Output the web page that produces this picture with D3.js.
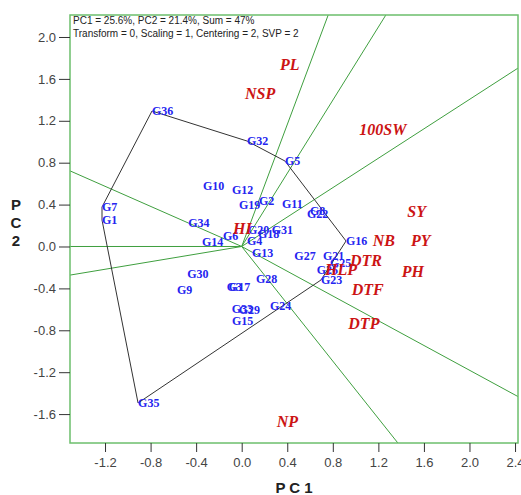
<!DOCTYPE html>
<html>
<head>
<meta charset="utf-8">
<script src="https://cdn.jsdelivr.net/npm/d3@7"></script>
<style>
  html, body { margin: 0; padding: 0; background: #fff; }
  svg { display: block; }
</style>
</head>
<body>
<svg id="chart" width="521" height="495"></svg>
<script>
// ---- Data ----
const genotypes = ["G1","G2","G3","G4","G5","G6","G7","G8","G9","G10","G11","G12",
  "G13","G14","G15","G16","G17","G18","G19","G20","G21","G22","G23","G24",
  "G25","G26","G27","G28","G29","G30","G31","G32","G33","G34","G35","G36"];
const genoPC1 = [-1.2265, 0.152, -0.131, 0.0465, 0.380, -0.164, -1.2265, 0.600, -0.568, -0.340, 0.354, -0.085,
  0.090, -0.349, -0.085, 0.916, -0.113, 0.143, -0.024, 0.055, 0.714, 0.573, 0.696, 0.248,
  0.775, 0.658, 0.462, 0.126, -0.026, -0.478, 0.263, 0.0465, -0.088, -0.469, -0.910, -0.7875];
const genoPC2 = [0.253, 0.434, -0.387, 0.050, 0.816, 0.100, 0.377, 0.339, -0.415, 0.578, 0.406, 0.539,
  -0.062, 0.046, -0.711, 0.0525, -0.387, 0.122, 0.396, 0.160, -0.091, 0.307, -0.320, -0.565,
  -0.160, -0.224, -0.091, -0.307, -0.606, -0.263, 0.158, 1.007, -0.592, 0.221, -1.494, 1.2936];

const traits = ["PL","NSP","100SW","SY","NB","PY","PH","DTR","DTF","DTP","NP","HI","HLP"];
const traitPC1 = [0.336, 0.029, 1.0325, 1.454, 1.150, 1.486, 1.405, 0.951, 0.966, 0.936, 0.307, -0.076, 0.731];
const traitPC2 = [1.742, 1.456, 1.119, 0.332, 0.0525, 0.0525, -0.2406, -0.138, -0.415, -0.733, -1.6726, 0.172, -0.224];

// vertices of the which-won-where polygon (in order)
const polygonVertices = ["G36","G32","G5","G16","G23","G35","G1","G7"];

const xTicks = [-1.2, -0.8, -0.4, 0.0, 0.4, 0.8, 1.2, 1.6, 2.0, 2.4];
const yTicks = [2.0, 1.6, 1.2, 0.8, 0.4, 0.0, -0.4, -0.8, -1.2, -1.6];

const headerLines = ["PC1 = 25.6%, PC2 = 21.4%, Sum = 47%",
                     "Transform = 0, Scaling = 1, Centering = 2, SVP = 2"];

// ---- Layout ----
const L = 70, R = 518, T = 15, B = 443;
const x = d3.scaleLinear().domain([-1.5075, 2.426]).range([L, R]);
const y = d3.scaleLinear().domain([-1.876, 2.210]).range([B, T]);

const svg = d3.select("#chart");

svg.append("defs").append("clipPath").attr("id", "plotclip")
  .append("rect").attr("x", L).attr("y", T).attr("width", R - L).attr("height", B - T);

const plot = svg.append("g").attr("clip-path", "url(#plotclip)");

// genotype lookup
const gIndex = {};
genotypes.forEach((g, i) => gIndex[g] = [genoPC1[i], genoPC2[i]]);
const hull = polygonVertices.map(g => gIndex[g]);

// rays perpendicular to each polygon side, from origin
const [dx0, dx1] = x.domain(), [dy0, dy1] = y.domain();
for (let i = 0; i < hull.length; i++) {
  const a = hull[i], b = hull[(i + 1) % hull.length];
  const d = [b[0] - a[0], b[1] - a[1]];
  const t = -(a[0] * d[0] + a[1] * d[1]) / (d[0] * d[0] + d[1] * d[1]);
  const f = [a[0] + t * d[0], a[1] + t * d[1]];
  let s = Infinity;
  if (f[0] > 1e-9) s = Math.min(s, dx1 / f[0]);
  if (f[0] < -1e-9) s = Math.min(s, dx0 / f[0]);
  if (f[1] > 1e-9) s = Math.min(s, dy1 / f[1]);
  if (f[1] < -1e-9) s = Math.min(s, dy0 / f[1]);
  plot.append("line")
    .attr("x1", x(0)).attr("y1", y(0))
    .attr("x2", x(f[0] * s)).attr("y2", y(f[1] * s))
    .attr("stroke", "#3f9f3f").attr("stroke-width", 1);
}

// polygon
plot.append("path")
  .attr("d", d3.line().x(p => x(p[0])).y(p => y(p[1])).curve(d3.curveLinearClosed)(hull))
  .attr("fill", "none").attr("stroke", "#333").attr("stroke-width", 1);

// genotype labels
plot.selectAll("text.geno").data(genotypes).join("text")
  .attr("class", "geno")
  .attr("x", (d, i) => x(genoPC1[i]))
  .attr("y", (d, i) => y(genoPC2[i]))
  .attr("dominant-baseline", "central")
  .attr("font-family", "'Liberation Serif', 'Times New Roman', serif")
  .attr("font-weight", "bold")
  .attr("font-size", 12)
  .attr("fill", "#2424f0")
  .text(d => d);

// trait labels
plot.selectAll("text.trait").data(traits).join("text")
  .attr("class", "trait")
  .attr("x", (d, i) => x(traitPC1[i]))
  .attr("y", (d, i) => y(traitPC2[i]))
  .attr("dominant-baseline", "central")
  .attr("font-family", "'Liberation Serif', 'Times New Roman', serif")
  .attr("font-weight", "bold")
  .attr("font-style", "italic")
  .attr("font-size", 16)
  .attr("fill", "#cc1414")
  .text(d => d);

// header text
svg.selectAll("text.hdr").data(headerLines).join("text")
  .attr("class", "hdr")
  .attr("x", 73).attr("y", (d, i) => 24 + i * 13)
  .attr("font-family", "'Liberation Sans', Arial, sans-serif")
  .attr("font-size", 10)
  .attr("fill", "#222")
  .text(d => d);

// plot border
svg.append("rect").attr("x", L).attr("y", T).attr("width", R - L).attr("height", B - T)
  .attr("fill", "none").attr("stroke", "#6cbf6c").attr("stroke-width", 1.5);

// axes
const fmt = v => v.toFixed(1);
const xAxis = d3.axisBottom(x).tickValues(xTicks).tickFormat(fmt).tickSize(9).tickSizeOuter(0);
const gx = svg.append("g").attr("transform", `translate(0,${B})`).call(xAxis);
gx.select(".domain").remove();
gx.selectAll(".tick line").attr("stroke", "#333");
gx.selectAll(".tick text").attr("font-family", "'Liberation Sans', Arial, sans-serif")
  .attr("font-size", 13).attr("fill", "#444").attr("dy", "0.95em");

const yAxis = d3.axisLeft(y).tickValues(yTicks).tickFormat(fmt).tickSize(11).tickSizeOuter(0);
const gy = svg.append("g").attr("transform", `translate(${L},0)`).call(yAxis);
gy.select(".domain").remove();
gy.selectAll(".tick line").attr("stroke", "#333");
gy.selectAll(".tick text").attr("font-family", "'Liberation Sans', Arial, sans-serif")
  .attr("font-size", 13).attr("fill", "#444").attr("x", -14);

// axis titles
svg.append("text").attr("x", 294).attr("y", 493).attr("text-anchor", "middle")
  .attr("font-family", "'Liberation Sans', Arial, sans-serif")
  .attr("font-weight", "bold").attr("font-size", 15).attr("fill", "#222")
  .text("P C 1");
["P", "C", "2"].forEach((c, i) => {
  svg.append("text").attr("x", 16).attr("y", 210 + i * 18).attr("text-anchor", "middle")
    .attr("font-family", "'Liberation Sans', Arial, sans-serif")
    .attr("font-weight", "bold").attr("font-size", 15).attr("fill", "#222")
    .text(c);
});
</script>
</body>
</html>
